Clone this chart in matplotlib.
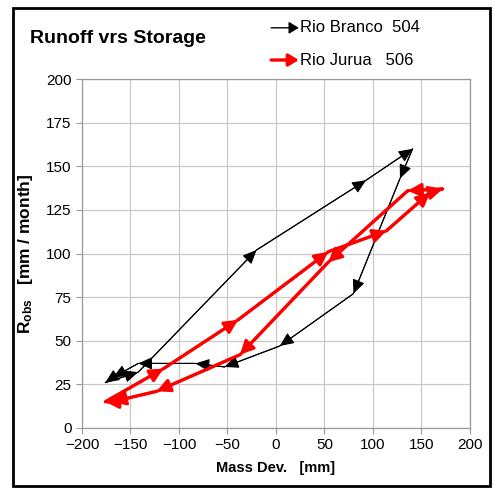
import matplotlib
matplotlib.use("Agg")
import matplotlib.pyplot as plt
from matplotlib.patches import Rectangle, FancyArrowPatch

plt.rcParams['font.family'] = ['Liberation Sans', 'DejaVu Sans']
plt.rcParams['mathtext.fontset'] = 'custom'
plt.rcParams['mathtext.rm'] = 'Liberation Sans'
plt.rcParams['mathtext.bf'] = 'Liberation Sans:bold'

# Rio Branco 504 (monthly mass deviation vs runoff, loop closes)
branco_x = [-176, -142, -20, 93, 141, 128, 80, 4, -53, -83, -142, -168, -176]
branco_y = [26, 32, 102, 142, 160, 143, 77, 47, 35, 37, 37, 29, 26]

# Rio Jurua 506
jurua_x = [-176, -116, -39, 54, 114, 159, 172, 136, 54, -37, -123, -169, -176]
jurua_y = [15, 34, 62, 101, 113, 135, 137, 136, 95, 42, 21, 15, 15]

labels = ['Rio Branco  504', 'Rio Jurua   506']
colors = ['black', 'red']

xticks = list(range(-200, 201, 50))
yticks = list(range(0, 201, 25))

fig = plt.figure(figsize=(4.94, 4.88), dpi=100)
ax = fig.add_axes([0.166, 0.123, 0.785, 0.715])

def draw_series(xs, ys, color, lw, hl, hw):
    ax.plot(xs, ys, color=color, lw=lw, solid_capstyle='butt', zorder=3)
    style = '-|>,head_length=%.2f,head_width=%.2f' % (hl, hw)
    for i in range(1, len(xs)):
        ax.annotate('', xy=(xs[i], ys[i]), xytext=(xs[i - 1], ys[i - 1]),
                    arrowprops=dict(arrowstyle=style, color=color, lw=lw,
                                    mutation_scale=10, shrinkA=0, shrinkB=0),
                    zorder=4)

draw_series(branco_x, branco_y, colors[0], 0.8, 0.85, 0.38)
draw_series(jurua_x, jurua_y, colors[1], 2.2, 0.8, 0.4)

ax.set_xlim(-200, 200)
ax.set_ylim(0, 200)
ax.set_xticks(xticks)
ax.set_yticks(yticks)
ax.tick_params(labelsize=11, color='#999999', length=4, width=0.8)
ax.grid(True, color='#c8c8c8', lw=0.9)
ax.set_axisbelow(True)
for s in ax.spines.values():
    s.set_color('#999999')
    s.set_linewidth(0.9)

ax.set_xlabel('Mass Dev.   [mm]', fontsize=10.5, fontweight='bold', labelpad=6)
ax.set_ylabel(r'$\mathbf{R_{obs}}$   [mm / month]', fontsize=12.5,
              fontweight='bold', labelpad=8)

fig.text(0.061, 0.922, 'Runoff vrs Storage', fontsize=14, fontweight='bold',
         va='center', ha='left')

# legend built by hand
leg_y = [0.943, 0.877]
for ly, lab, col, lw in zip(leg_y, labels, colors, [1.0, 2.4]):
    fig.add_artist(FancyArrowPatch(
        (0.549, ly), (0.605, ly), transform=fig.transFigure,
        arrowstyle='-|>,head_length=0.5,head_width=0.3', color=col, lw=lw,
        mutation_scale=12, shrinkA=0, shrinkB=0))
    fig.text(0.607, ly, lab, fontsize=12, va='center', ha='left')

fig.add_artist(Rectangle((0.027, 0.004), 0.965, 0.98, transform=fig.transFigure,
                         fill=False, edgecolor='black', lw=2))

fig.savefig('out.png', dpi=100)
